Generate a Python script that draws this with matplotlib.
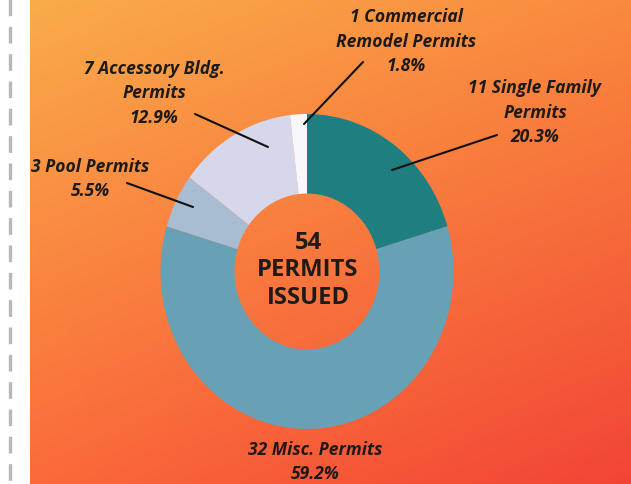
import matplotlib

matplotlib.use("Agg")
import matplotlib.pyplot as plt
import numpy as np

# permit counts, in clockwise order starting at 12 o'clock
categories = ["Single Family", "Misc.", "Pool", "Accessory Bldg.", "Commercial Remodel"]
counts = [11, 32, 3, 7, 1]
pct_labels = ["20.3%", "59.2%", "5.5%", "12.9%", "1.8%"]
label_text = [
    "11 Single Family\nPermits",
    "32 Misc. Permits",
    "3 Pool Permits",
    "7 Accessory Bldg.\nPermits",
    "1 Commercial\nRemodel Permits",
]
slice_colors = ["#1f7f80", "#68a0b6", "#a9bdd2", "#d6d7ea", "#f8f8fc"]
total_label = "54\nPERMITS\nISSUED"

W, H = 631, 485
CX, CY, RX, RY = 307, 272.5, 146.5, 157.5


def px(x, y):
    """Pixel position in the 631x485 canvas -> data coords of the pie axes."""
    return (x - CX) / RX, (CY - y) / RY


fig = plt.figure(figsize=(W / 100, H / 100), dpi=100)
ax = fig.add_axes([0, 0, 1, 1])

x0, y0 = px(0, H)
x1, y1 = px(W, 0)

# diagonal orange gradient background (starts after white margin strip)
tl = np.array([249, 172, 74]) / 255
tr = np.array([250, 138, 62]) / 255
bl = np.array([251, 106, 58]) / 255
br = np.array([242, 68, 54]) / 255
u = np.linspace(0, 1, 200)[None, :, None]
v = np.linspace(0, 1, 200)[:, None, None]
grad = (1 - v) * ((1 - u) * tl + u * tr) + v * ((1 - u) * bl + u * br)
gx0, _ = px(30, 0)
ax.imshow(grad, extent=[gx0, x1, y0, y1], origin="upper", aspect="auto", zorder=0)

# dashed margin line
lx, _ = px(10, 0)
ax.plot([lx, lx], [y1, y0], color="#b8b8b8", lw=2.4, ls=(0, (5, 3.2)), zorder=1)

wedges, _ = ax.pie(
    counts,
    colors=slice_colors,
    startangle=90,
    counterclock=False,
    radius=1.0,
    wedgeprops=dict(width=0.505, edgecolor="none"),
)
for w in wedges:
    w.set_zorder(2)

ax.set_aspect("auto")
ax.set_xlim(x0, x1)
ax.set_ylim(y0, y1)
ax.axis("off")

font = dict(family=["Open Sans", "DejaVu Sans"], weight="bold", style="italic",
            color="#1e1a18", fontsize=12.6, ha="center", va="center")

# label layout: (text centre px, leader start px, leader end px)
layout = [
    ((535, 88), (497, 136), (392, 171)),
    ((315, 450), None, None),
    ((90, 167), (127, 184), (193, 208)),
    ((154, 69), (195, 115), (268, 148)),
    ((406, 17), (363, 63), (304, 125)),
]
line_gap = 24.5

for text, pct, (pos, start, end) in zip(label_text, pct_labels, layout):
    lines = text.split("\n") + [pct]
    for i, ln in enumerate(lines):
        ax.text(*px(pos[0], pos[1] + i * line_gap), ln, zorder=4, **font)
    if start is not None:
        sx, sy = px(*start)
        ex, ey = px(*end)
        ax.plot([sx, ex], [sy, ey], color="#111111", lw=1.5, zorder=3,
                solid_capstyle="round")

center_font = dict(family=["Open Sans", "DejaVu Sans"], weight="bold",
                   color="#1e1a18", fontsize=17.2, ha="center", va="center")
for i, ln in enumerate(total_label.split("\n")):
    ax.text(*px(308, 243 + i * 27.5), ln, zorder=4, **center_font)

fig.savefig("out.png", dpi=100, facecolor="white")
